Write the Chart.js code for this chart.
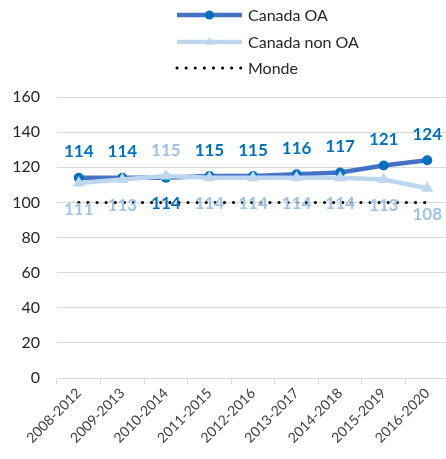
<!DOCTYPE html>
<html><head><meta charset="utf-8">
<script src="https://cdn.jsdelivr.net/npm/chart.js@4"></script>
<style>html,body{margin:0;padding:0;background:#fff;overflow:hidden;width:446px;height:459px}#wrap{width:456px;height:459px;position:relative}</style>
</head><body><div id="wrap"><canvas id="c"></canvas></div>
<script>
const categories = ['2008-2012','2009-2013','2010-2014','2011-2015','2012-2016','2013-2017','2014-2018','2015-2019','2016-2020'];
const canadaOA = [114,114,114,115,115,116,117,121,124];
const canadaNonOA = [111,113,115,114,114,114,114,113,108];
const monde = [100,100,100,100,100,100,100,100,100];
const seriesNames = ['Canada OA','Canada non OA','Monde'];
const yMin = 0, yMax = 160, yStep = 20;

const FONT = 'Lato, "Open Sans", sans-serif';
const OA_LINE = '#4472C4', OA_MARK = '#0070C0', OA_LABEL = '#0070C0';
const NOA_LINE = '#BDD7EE', NOA_LABEL = '#9DC3E6';

const labelPlugin = {
  id: 'valueLabels',
  afterDatasetsDraw(chart) {
    const ctx = chart.ctx;
    const mOA = chart.getDatasetMeta(0), mN = chart.getDatasetMeta(1);
    ctx.save();
    ctx.font = 'bold 17px ' + FONT;
    ctx.textAlign = 'center';
    ctx.textBaseline = 'middle';
    for (let i = 0; i < categories.length; i++) {
      const oaAbove = canadaOA[i] >= canadaNonOA[i];
      const pO = mOA.data[i], pN = mN.data[i];
      ctx.fillStyle = OA_LABEL;
      ctx.fillText(String(canadaOA[i]), pO.x, pO.y + (oaAbove ? -26 : 26));
      ctx.fillStyle = NOA_LABEL;
      ctx.fillText(String(canadaNonOA[i]), pN.x, pN.y + (oaAbove ? 26 : -26));
    }
    ctx.restore();
  }
};

const legendPlugin = {
  id: 'vLegend',
  afterDraw(chart) {
    const ctx = chart.ctx;
    const x0 = 177, x1 = 242, tx = 248;
    const ys = [15, 42, 68];
    ctx.save();
    chart.data.datasets.forEach((ds, i) => {
      const y = ys[i];
      ctx.beginPath();
      ctx.strokeStyle = ds.borderColor;
      ctx.lineWidth = ds.borderWidth;
      ctx.lineCap = ds.borderCapStyle || 'butt';
      ctx.setLineDash(ds.borderDash || []);
      ctx.moveTo(x0, y); ctx.lineTo(x1, y); ctx.stroke();
      ctx.setLineDash([]);
      const cx = (x0 + x1) / 2;
      if (ds.pointRadius > 0) {
        ctx.fillStyle = ds.pointBackgroundColor;
        ctx.beginPath();
        if (ds.pointStyle === 'triangle') {
          const r = 4;
          ctx.moveTo(cx, y - r*1.3); ctx.lineTo(cx + r, y + r*0.7); ctx.lineTo(cx - r, y + r*0.7);
          ctx.closePath();
        } else {
          ctx.arc(cx, y, 4.5, 0, Math.PI * 2);
        }
        ctx.fill();
      }
      ctx.fillStyle = '#262626';
      ctx.font = '16px ' + FONT;
      ctx.textAlign = 'left';
      ctx.textBaseline = 'middle';
      ctx.fillText(ds.label, tx, y + 1);
    });
    ctx.restore();
  }
};

new Chart(document.getElementById('c'), {
  type: 'line',
  data: {
    labels: categories,
    datasets: [
      { label: seriesNames[0], data: canadaOA, borderColor: OA_LINE, borderWidth: 4.5,
        pointRadius: 5, pointBackgroundColor: OA_MARK, pointBorderColor: OA_MARK, pointBorderWidth: 0, order: 1 },
      { label: seriesNames[1], data: canadaNonOA, borderColor: NOA_LINE, borderWidth: 4.5,
        pointStyle: 'triangle', pointRadius: 7, pointBackgroundColor: NOA_LINE, pointBorderColor: NOA_LINE, pointBorderWidth: 0, order: 0 },
      { label: seriesNames[2], data: monde, borderColor: '#000000', borderWidth: 3,
        borderDash: [0.1, 9], borderCapStyle: 'round', pointRadius: 0, order: 2 }
    ]
  },
  options: {
    responsive: true, maintainAspectRatio: false, animation: false,
    layout: { padding: { top: 97, right: 0, left: 0, bottom: 0 } },
    plugins: { legend: { display: false }, tooltip: { enabled: false } },
    scales: {
      x: {
        offset: true,
        grid: { offset: true, drawOnChartArea: false, drawTicks: true, tickLength: 6, color: '#D9D9D9' },
        border: { color: '#D9D9D9', width: 1 },
        ticks: { minRotation: 45, maxRotation: 45, padding: 1, color: '#404040', font: { family: FONT, size: 14 } },
        afterFit(s) { s.height = 81; s.paddingRight = 0; s.paddingLeft = 0; }
      },
      y: {
        min: yMin, max: yMax,
        ticks: { stepSize: yStep, padding: 17, color: '#262626', font: { family: FONT, size: 16 } },
        grid: { color: '#D9D9D9', drawTicks: false },
        border: { display: false },
        afterFit(s) { s.width = 57; }
      }
    }
  },
  plugins: [labelPlugin, legendPlugin]
});
</script></body></html>
